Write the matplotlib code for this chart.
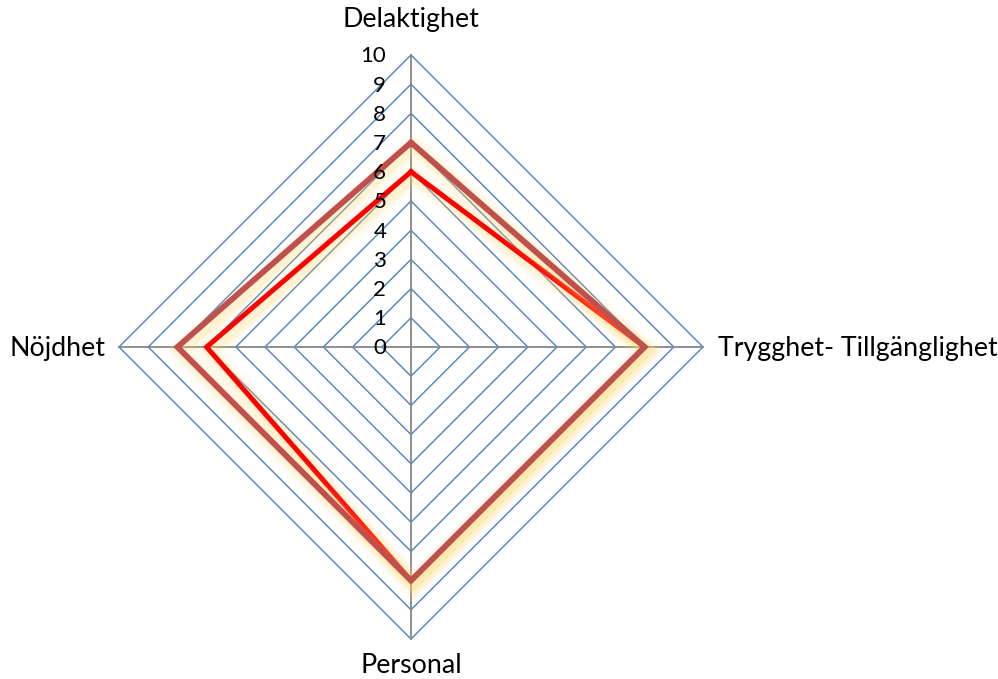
import numpy as np
import matplotlib
matplotlib.use("Agg")
import matplotlib.pyplot as plt
import matplotlib.patheffects as pe

categories = ["Delaktighet", "Trygghet- Tillgänglighet", "Personal", "Nöjdhet"]
series_red = [6, 8, 8, 7]
series_darkred = [7, 8, 8, 8]
rings = list(range(1, 11))
tick_labels = [str(v) for v in range(0, 11)]

# axis directions, clockwise from the top
angles = np.deg2rad([90, 0, -90, 180])


def to_xy(values):
    v = np.asarray(values, dtype=float)
    x = v * np.cos(angles)
    y = v * np.sin(angles)
    return np.append(x, x[0]), np.append(y, y[0])


fig = plt.figure(figsize=(9.98, 6.79), dpi=100)
ax = fig.add_axes([0, 0, 1, 1])
unit = 29.2
cx, cy = 411, 347
ax.set_xlim(-cx / unit, (998 - cx) / unit)
ax.set_ylim(-(679 - cy) / unit, cy / unit)
ax.set_aspect("equal")
ax.axis("off")

font = "Lato"

# grid rings
for r in rings:
    gx, gy = to_xy([r] * 4)
    ax.plot(gx, gy, color="#4F81BD", lw=1.0, zorder=1)

# spokes
for a in angles:
    ax.plot([0, 10 * np.cos(a)], [0, 10 * np.sin(a)], color="#868686", lw=1.3, zorder=2)

# value labels on the vertical axis
for v, t in zip(range(0, 11), tick_labels):
    ax.text(-0.85, v - 0.05, t, ha="right", va="center", fontsize=16, family=font, zorder=5)

# category labels
ax.text(0, 10.95, categories[0], ha="center", va="baseline", fontsize=19.3, family=font)
ax.text(10.5, -0.05, categories[1], ha="left", va="center", fontsize=19.3, family=font)
ax.text(0, -(679 - cy - 1) / unit, categories[2], ha="center", va="bottom", fontsize=19.3, family=font)
ax.text(-10.45, -0.05, categories[3], ha="right", va="center", fontsize=19.3, family=font)

glow = [
    pe.SimpleLineShadow(offset=(2, -3), shadow_color="#FFE08A", alpha=0.08, linewidth=16),
    pe.SimpleLineShadow(offset=(2, -3), shadow_color="#FFD966", alpha=0.12, linewidth=11),
    pe.SimpleLineShadow(offset=(2, -3), shadow_color="#FFD966", alpha=0.15, linewidth=7),
    pe.Normal(),
]

rx, ry = to_xy(series_red)
ax.plot(rx, ry, color="#FF0000", lw=3.6, solid_joinstyle="miter", zorder=3, path_effects=glow)
dx, dy = to_xy(series_darkred)
ax.plot(dx, dy, color="#C0504D", lw=4.2, solid_joinstyle="miter", zorder=4, path_effects=glow)

fig.savefig("out.png", dpi=100)
